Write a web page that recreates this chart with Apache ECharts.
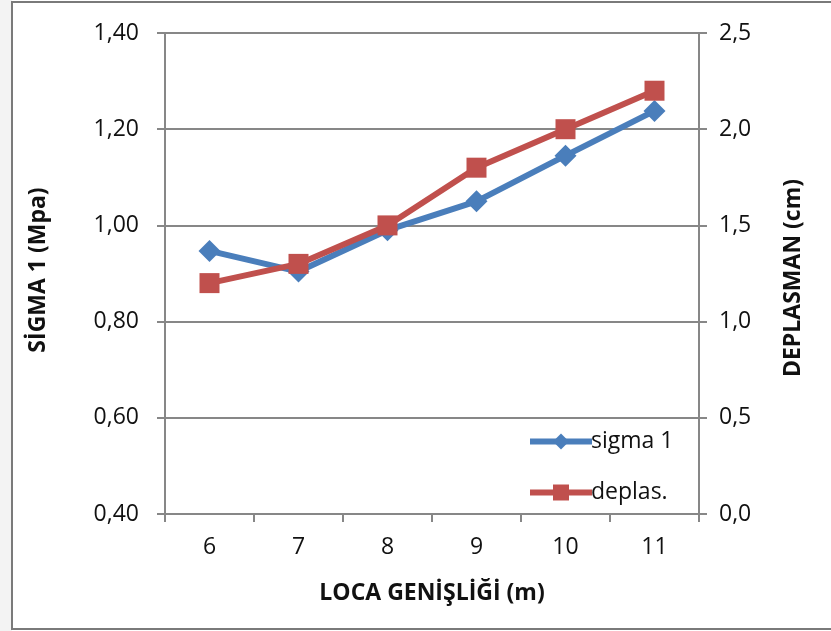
<!DOCTYPE html>
<html>
<head>
<meta charset="utf-8">
<script src="https://cdn.jsdelivr.net/npm/echarts@6/dist/echarts.min.js"></script>
<style>
  html, body { margin: 0; padding: 0; background: #ffffff; }
  #chart { width: 831px; height: 631px; }
</style>
</head>
<body>
<div id="chart"></div>
<script>
// Loca genişliği (m)
const categories = ['6', '7', '8', '9', '10', '11'];
// Sigma 1 (MPa), left axis
const sigmaValues = [0.947, 0.904, 0.99, 1.05, 1.145, 1.238];
// Deplasman (cm), right axis
const deplasValues = [1.2, 1.3, 1.5, 1.8, 2.0, 2.2];

const FONT = '"Open Sans", "DejaVu Sans", sans-serif';
const GRAY = '#878787';
const BLUE = '#4a7ebb';
const RED = '#c0504d';

const chart = echarts.init(document.getElementById('chart'), null, { renderer: 'canvas' });

const comma = (v, d) => v.toFixed(d).replace('.', ',');

chart.setOption({
  animation: false,
  backgroundColor: '#ffffff',
  textStyle: { fontFamily: FONT },
  graphic: [
    {
      type: 'rect',
      shape: { x: 0, y: 0, width: 12, height: 631 },
      style: { fill: '#f3f3f3' },
      silent: true
    },
    {
      type: 'rect',
      shape: { x: 12, y: 2, width: 830, height: 627 },
      style: { fill: 'none', stroke: '#7a7a7a', lineWidth: 2 },
      silent: true
    },
    {
      type: 'text',
      rotation: Math.PI / 2,
      x: 38, y: 270,
      style: {
        text: 'SİGMA 1 (Mpa)',
        font: 'bold 23px ' + FONT,
        fill: '#111',
        align: 'center',
        verticalAlign: 'middle'
      }
    },
    {
      type: 'text',
      rotation: Math.PI / 2,
      x: 793, y: 278,
      style: {
        text: 'DEPLASMAN (cm)',
        font: 'bold 23px ' + FONT,
        fill: '#111',
        align: 'center',
        verticalAlign: 'middle'
      }
    },
    {
      type: 'text',
      x: 432, y: 593,
      style: {
        text: 'LOCA GENİŞLİĞİ (m)',
        font: 'bold 23px ' + FONT,
        fill: '#111',
        align: 'center',
        verticalAlign: 'middle'
      }
    }
  ],
  grid: { left: 165, right: 132, top: 33, bottom: 117, containLabel: false },
  legend: {
    orient: 'vertical',
    left: 522,
    top: 425,
    itemWidth: 62,
    itemHeight: 20,
    itemGap: 28,
    lineStyle: { width: 6 },
    textStyle: { fontFamily: FONT, fontSize: 23, color: '#111', padding: [0, 0, 0, -6] },
    data: [
      { name: 'sigma 1', lineStyle: { width: 6, color: BLUE } },
      { name: 'deplas.', lineStyle: { width: 6, color: RED } }
    ]
  },
  xAxis: {
    type: 'category',
    data: categories,
    boundaryGap: true,
    axisLine: { lineStyle: { color: GRAY, width: 2 } },
    axisTick: { show: true, inside: false, length: 8, lineStyle: { color: GRAY, width: 2 } },
    axisLabel: { fontSize: 23, color: '#111', margin: 22, fontFamily: FONT },
    splitLine: { show: false }
  },
  yAxis: [
    {
      type: 'value',
      min: 0.4,
      max: 1.4,
      interval: 0.2,
      position: 'left',
      axisLine: { show: true, lineStyle: { color: GRAY, width: 2 } },
      axisTick: { show: true, length: 8, lineStyle: { color: GRAY, width: 2 } },
      axisLabel: { fontSize: 23, color: '#111', margin: 26, fontFamily: FONT, formatter: v => comma(v, 2) },
      splitLine: { show: true, lineStyle: { color: GRAY, width: 2 } }
    },
    {
      type: 'value',
      min: 0,
      max: 2.5,
      interval: 0.5,
      position: 'right',
      axisLine: { show: true, lineStyle: { color: GRAY, width: 2 } },
      axisTick: { show: true, length: 8, lineStyle: { color: GRAY, width: 2 } },
      axisLabel: { fontSize: 23, color: '#111', margin: 20, fontFamily: FONT, formatter: v => comma(v, 1) },
      splitLine: { show: false }
    }
  ],
  series: [
    {
      name: 'sigma 1',
      type: 'line',
      yAxisIndex: 0,
      data: sigmaValues,
      symbol: 'diamond',
      symbolSize: 22,
      lineStyle: { color: BLUE, width: 6 },
      itemStyle: { color: BLUE },
      z: 3
    },
    {
      name: 'deplas.',
      type: 'line',
      yAxisIndex: 1,
      data: deplasValues,
      symbol: 'rect',
      symbolSize: 20,
      lineStyle: { color: RED, width: 6 },
      itemStyle: { color: RED },
      z: 4
    }
  ]
});
</script>
</body>
</html>
